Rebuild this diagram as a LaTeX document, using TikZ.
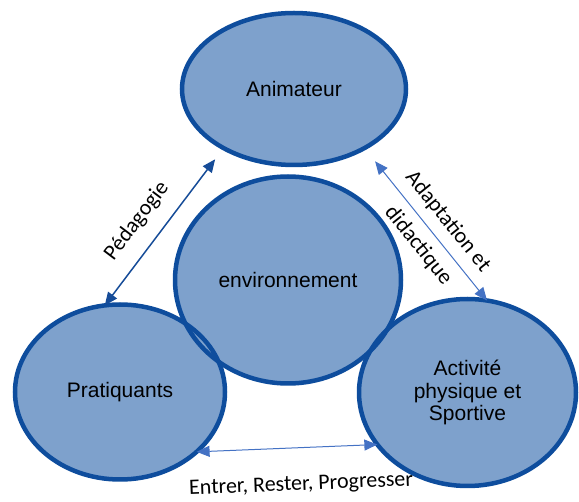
\documentclass[tikz,border=0pt]{standalone}
\usepackage{fontspec}
\setmainfont{Liberation Sans}
\newfontfamily\carlito{Carlito}
\usetikzlibrary{shapes.geometric, arrows.meta}
\definecolor{bulleFill}{RGB}{126, 161, 204}
\definecolor{bulleLine}{RGB}{14, 77, 157}
\definecolor{flecheFonce}{RGB}{22, 76, 152}
\definecolor{flecheClair}{RGB}{68, 114, 196}
\tikzset{
  Bulle/.style       = {ellipse, fill=bulleFill, inner sep=0pt, outer sep=0pt,
                        align=center, font=\fontsize{21}{22.5}\selectfont},
  Contour/.style     = {ellipse, draw=bulleLine, line width=4.5pt, inner sep=0pt},
  Fleche/.style      = {>={Triangle[length=13pt, width=11pt]}, <->},
  FlecheFonce/.style = {Fleche, line width=1.5pt, color=flecheFonce},
  FlecheClair/.style = {Fleche, line width=1pt, color=flecheClair},
  Etiquette/.style   = {font=\carlito\fontsize{22}{25}\selectfont, text=black,
                        inner sep=3pt},
}

\begin{document}
\begin{tikzpicture}[x=1pt, y=-1pt]
    \useasboundingbox (0,0) rectangle (579,502);
    \node[Bulle, minimum width=224pt, minimum height=152pt] (anim) at (294,89)      {Animateur};
    \node[Bulle, minimum width=226pt, minimum height=207pt] (env)  at (288,280)     {environnement};
    \node[Bulle, minimum width=210pt, minimum height=175pt] (prat) at (120,392)     {Pratiquants};
    \node[Bulle, minimum width=217pt, minimum height=187pt] (aps)  at (467.5,392.5) {Activité\\physique et\\Sportive};
    % rings drawn after all fills, so both outlines show where bubbles overlap
    \foreach \n/\w/\h in {anim/224pt/152pt, env/226pt/207pt, prat/210pt/175pt, aps/217pt/187pt}
      \node[Contour, minimum width=\w, minimum height=\h] at (\n) {};
    \draw[FlecheFonce, shorten >=14pt] (prat.100) -- (anim.220)
      node[Etiquette, sloped, above=12pt, pos=0.44] (peda) {Pédagogie};
    \draw[FlecheClair, shorten <=17pt] (anim.320) -- (aps.78)
      node[Etiquette, sloped, pos=0.56, align=center] (adapt) {Adaptation et\\[13pt]didactique};
    \draw[FlecheClair] (prat.322) -- (aps.210)
      node[Etiquette, sloped, below=25pt, pos=0.57] (ers) {Entrer, Rester, Progresser};
  \end{tikzpicture}
\end{document}
